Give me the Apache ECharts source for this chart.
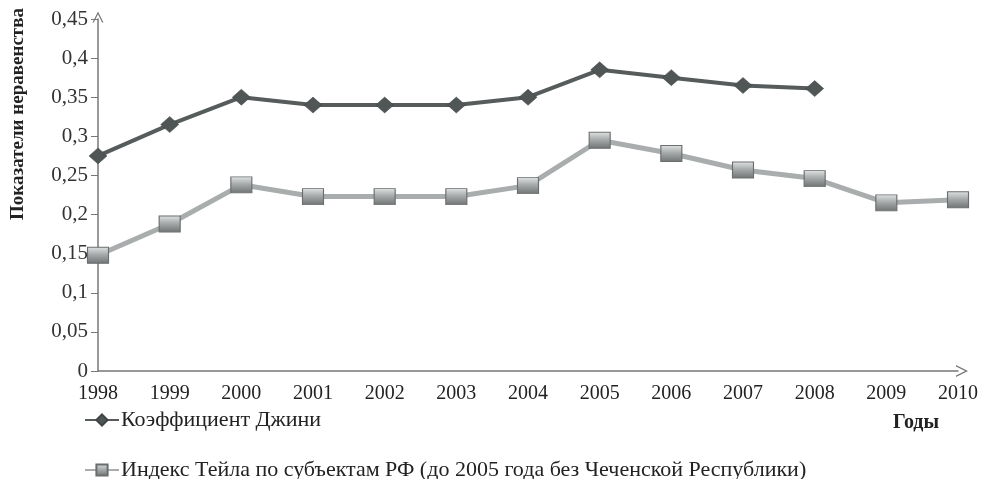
<!DOCTYPE html>
<html><head><meta charset="utf-8">
<script src="https://cdn.jsdelivr.net/npm/echarts@6/dist/echarts.min.js"></script>
<style>html,body{margin:0;padding:0;background:#fff}#c{width:982px;height:479px}</style>
</head><body><div id="c"></div>
<script>
const years = ['1998','1999','2000','2001','2002','2003','2004','2005','2006','2007','2008','2009','2010'];
const gini = [0.275,0.315,0.350,0.340,0.340,0.340,0.350,0.385,0.375,0.365,0.361,null,null];
const theil = [0.148,0.188,0.238,0.223,0.223,0.223,0.237,0.295,0.278,0.257,0.246,0.215,0.219];
const giniName = 'Коэффициент Джини';
const theilName = 'Индекс Тейла по субъектам РФ (до 2005 года без Чеченской Республики)';
const yTitle = 'Показатели неравенства';
const xTitle = 'Годы';

const serif = '"Liberation Serif", "DejaVu Serif", serif';
const chart = echarts.init(document.getElementById('c'));
const arrow = 'path://M0,10 L5,0 L10,10 L8.8,10 L5,2.4 L1.2,10 Z';
const legendCommon = {
  orient: 'horizontal', left: 79, itemWidth: 34, itemHeight: 14, itemGap: 4,
  textStyle: {fontFamily: serif, fontSize: 22, color: '#222', padding: [0, 0, 0, -3]}
};
chart.setOption({
  animation: false,
  backgroundColor: '#fff',
  grid: {left: 98, right: 24, top: 19, bottom: 108},
  legend: [
    Object.assign({top: 404, data: [giniName]}, legendCommon),
    Object.assign({top: 454, data: [theilName]}, legendCommon)
  ],
  xAxis: {
    type: 'category', data: years, boundaryGap: false,
    axisLine: {lineStyle: {color: '#777', width: 1.5}, symbol: ['none', arrow], symbolSize: [12, 12], symbolOffset: [0, 4]},
    axisTick: {show: false},
    axisLabel: {fontFamily: serif, fontSize: 20, color: '#222', margin: 13}
  },
  yAxis: {
    type: 'value', min: 0, max: 0.45, interval: 0.05,
    splitLine: {show: false},
    axisLine: {show: true, lineStyle: {color: '#777', width: 1.5}, symbol: ['none', arrow], symbolSize: [13, 11], symbolOffset: [0, 2]},
    axisTick: {show: true, length: 7, lineStyle: {color: '#777'}},
    axisLabel: {fontFamily: serif, fontSize: 21, color: '#333', margin: 10,
      formatter: v => String(+v.toFixed(2)).replace('.', ',')}
  },
  graphic: [
    {type: 'text', x: 18, y: 114, rotation: Math.PI / 2,
      style: {text: yTitle, fontFamily: serif, fontSize: 19, fontWeight: 'bold', fill: '#222', align: 'center', verticalAlign: 'middle'}},
    {type: 'text', x: 916, y: 423,
      style: {text: xTitle, fontFamily: serif, fontSize: 20, fontWeight: 'bold', fill: '#222', align: 'center', verticalAlign: 'middle'}}
  ],
  series: [
    {name: giniName, type: 'line', data: gini,
      lineStyle: {color: '#565b5b', width: 4},
      symbol: 'diamond', symbolSize: [18, 16],
      itemStyle: {color: '#505555', borderColor: '#3f4444', borderWidth: 0.5}},
    {name: theilName, type: 'line', data: theil,
      lineStyle: {color: '#a9adad', width: 5},
      symbol: 'rect', symbolSize: [21, 16],
      itemStyle: {color: new echarts.graphic.LinearGradient(0, 0, 0, 1, [
        {offset: 0, color: '#e2e4e4'}, {offset: 0.45, color: '#a7abab'}, {offset: 1, color: '#6f7373'}]),
        borderColor: '#6a6e6e', borderWidth: 1}}
  ]
});
</script></body></html>
